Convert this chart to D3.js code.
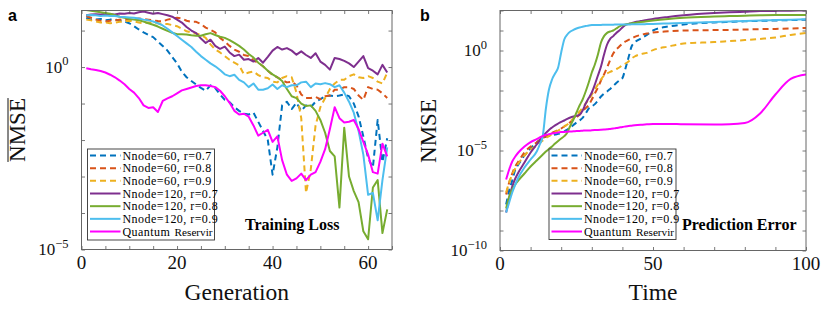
<!DOCTYPE html>
<html lang="en">
<head>
    <meta charset="UTF-8">
    <title>NMSE - training loss and prediction error</title>
    <script src="https://cdn.jsdelivr.net/npm/d3@7/dist/d3.min.js"></script>
</head>
<style>
    body {
        margin: 0;
        background: #fff;
    }

    text {
        font-family: "Liberation Serif", "Times New Roman", serif;
        fill: #111;
    }

    .tag {
        font-family: "Liberation Sans", Arial, sans-serif;
        font-weight: bold;
        font-size: 16px;
        fill: #000;
    }

    .note {
        font-weight: bold;
        font-size: 16px;
        fill: #000;
    }

    .leg {
        font-size: 12px;
        letter-spacing: 0.45px;
        fill: #000;
    }

    .leg-suffix {
        font-size: 11.2px;
        fill: #000;
    }
</style>
<body>
<script>
    // ---- data (values are log10 of NMSE) ----
    var generation = [1, 2, 3, 4, 5, 6, 7, 8, 9, 10, 11, 12, 13, 14, 15, 16, 17, 18, 19, 20,
        21, 22, 23, 24, 25, 26, 27, 28, 29, 30, 31, 32, 33, 34, 35, 36, 37, 38, 39, 40,
        41, 42, 43, 44, 45, 46, 47, 48, 49, 50, 51, 52, 53, 54, 55, 56, 57, 58, 59, 60,
        61, 62, 63, 64];

    var lossN60r07 = [1.35, 1.3, 1.3, 1.32, 1.28, 1.3, 1.3, 1.28, 1.25, 1.2,
        1.12, 1.03, 0.95, 0.88, 0.82, 0.7, 0.58, 0.45, 0.27, 0.1,
        -0.13, -0.28, -0.38, -0.48, -0.57, -0.65, -0.5, -0.58, -0.75, -0.9,
        -0.96, -1.1, -1.2, -1.28, -1.3, -1.25, -1.5, -1.75, -2.0, -2.95,
        -2.2, -1.05, -0.95, -1.15, -0.98, -1.2, -1.05, -1.1, -0.95, -0.88,
        -0.8, -0.78, -0.8, -0.78, -0.75, -0.8, -1.0, -1.35, -1.9, -2.5,
        -2.75, -1.45, -2.6, -1.95];
    var lossN60r08 = [1.4, 1.35, 1.3, 1.27, 1.25, 1.27, 1.28, 1.3, 1.29, 1.3,
        1.31, 1.33, 1.32, 1.3, 1.28, 1.26, 1.25, 1.3, 1.33, 1.35,
        1.33, 1.27, 1.24, 1.24, 1.18, 1.08, 1.02, 0.95, 0.8, 0.7,
        0.58, 0.48, 0.42, 0.33, 0.3, 0.18, 0.12, 0.02, -0.1, -0.22,
        -0.28, -0.36, -0.42, -0.4, -0.5, -0.75, -0.85, -0.85, -0.82, -0.88,
        -0.8, -0.78, -0.62, -0.62, -0.55, -0.55, -0.6, -0.78, -0.9, -0.55,
        -0.6, -0.62, -0.72, -0.85];
    var lossN60r09 = [1.3, 1.28, 1.25, 1.22, 1.22, 1.2, 1.22, 1.24, 1.25, 1.27,
        1.25, 1.22, 1.2, 1.22, 1.2, 1.2, 1.18, 1.18, 1.15, 1.12,
        1.05, 0.98, 0.95, 0.92, 0.88, 0.8, 0.62, 0.48, 0.4, 0.3,
        0.2, 0.12, 0.05, -0.2, -0.15, -0.12, -0.22, -0.28, -0.3, -0.4,
        -0.42, -0.3, -0.25, -0.28, -0.7, -1.4, -3.45, -2.8, -1.6, -1.1,
        -0.85, -0.6, -0.45, -0.35, -0.35, -0.25, -0.2, -0.28, -0.3, -0.25,
        -0.3, -0.4, -0.45, -0.15];
    var lossN120r07 = [1.42, 1.44, 1.45, 1.44, 1.46, 1.45, 1.44, 1.47, 1.46, 1.48,
        1.47, 1.5, 1.52, 1.49, 1.46, 1.48, 1.45, 1.42, 1.38, 1.3,
        1.22, 1.1, 1.0, 0.93, 0.78, 0.66, 0.75, 0.58, 0.5, 0.56,
        0.4, 0.3, 0.34, 0.2, 0.22, 0.15, 0.25, 0.12, 0.28, 0.45,
        0.55, 0.48, 0.52, 0.45, 0.34, 0.43, 0.33, 0.25, 0.38, 0.15,
        0.06, -0.07, 0.25, 0.22, 0.17, 0.1, 0.0, 0.15, 0.3, -0.03,
        -0.1, -0.2, 0.06, -0.15];
    var lossN120r08 = [1.56, 1.54, 1.52, 1.5, 1.48, 1.46, 1.42, 1.38, 1.35, 1.32,
        1.3, 1.28, 1.25, 1.2, 1.16, 1.11, 1.05, 0.99, 0.94, 0.9,
        0.9, 0.89, 0.87, 0.86, 0.86, 0.9, 0.93, 0.88, 0.83, 0.8,
        0.74, 0.66, 0.58, 0.48, 0.36, 0.26, 0.12, 0.02, -0.1, -0.2,
        -0.28, -0.38, -0.6, -0.8, -0.85, -1.0, -1.07, -1.05, -1.2, -1.45,
        -1.8, -2.3, -2.45, -3.85, -1.66, -3.0, -3.4, -3.7, -4.5, -4.72,
        -3.3, -3.1, -4.55, -3.9];
    var lossN120r09 = [1.42, 1.43, 1.42, 1.4, 1.41, 1.4, 1.4, 1.38, 1.37, 1.36,
        1.35, 1.33, 1.3, 1.28, 1.25, 1.2, 1.14, 1.05, 0.95, 0.85,
        0.75, 0.65, 0.55, 0.42, 0.3, 0.2, 0.1, 0.02, -0.08, -0.2,
        -0.25, -0.21, -0.35, -0.42, -0.55, -0.45, -0.62, -0.62, -0.58, -0.48,
        -0.6, -0.5, -0.55, -0.5, -0.5, -0.42, -0.4, -0.55, -0.45, -0.47,
        -0.44, -0.47, -0.55, -0.5, -0.7, -0.95, -1.25, -1.75, -2.4, -3.5,
        -3.45, -4.2, -3.1, -2.2];
    var lossQuantum = [-0.03, -0.06, -0.08, -0.11, -0.15, -0.21, -0.28, -0.37, -0.47, -0.6,
        -0.7, -0.85, -1.05, -1.12, -1.1, -1.23, -0.93, -0.86, -0.8, -0.72,
        -0.64, -0.6, -0.56, -0.52, -0.5, -0.5, -0.52, -0.55, -0.65, -0.8,
        -0.98, -1.2, -1.3, -1.28, -1.36, -1.6, -1.88, -1.8, -1.72, -2.05,
        -1.9, -2.55, -2.95, -3.12, -3.05, -2.92, -3.1, -2.95, -2.88, -2.6,
        -2.25, -1.7, -1.1, -1.4, -1.52, -1.5, -1.45, -1.7, -2.05, -2.4,
        -2.88, -2.92, -2.1, -2.45];

    var time = [2, 3, 4, 5, 6, 8, 10, 12, 13, 14,
        15, 16, 17, 18, 19, 20, 21, 22, 23, 24,
        25, 26, 27, 28, 29, 30, 31, 32, 33, 34,
        35, 36, 37, 38, 39, 40, 41, 42, 43, 44,
        46, 48, 50, 55, 60, 70, 75, 80, 85, 90, 95, 100];

    var errN60r07 = [-7.7, -7.0, -6.5, -5.95, -5.7, -5.25, -4.9, -4.6, -4.48, -4.37,
        -4.32, -4.28, -4.25, -4.2, -4.17, -4.13, -4.05, -3.95, -3.85, -3.72,
        -3.6, -3.5, -3.37, -3.15, -2.9, -2.8, -2.68, -2.5, -2.3, -2.15,
        -2.05, -1.92, -1.78, -1.62, -1.5, -1.38, -0.9, -0.35, 0.2, 0.4,
        0.6, 0.78, 1.0, 1.2, 1.3, 1.4, 1.43, 1.46, 1.48, 1.5, 1.52, 1.54];
    var errN60r08 = [-7.2, -6.6, -6.15, -5.8, -5.55, -5.1, -4.8, -4.6, -4.48, -4.38,
        -4.28, -4.2, -4.12, -4.05, -3.98, -3.9, -3.8, -3.68, -3.58, -3.45,
        -3.35, -3.2, -3.03, -2.88, -2.73, -2.45, -2.15, -1.85, -1.5, -1.2,
        -0.85, -0.48, -0.15, 0.05, 0.2, 0.35, 0.45, 0.53, 0.6, 0.68,
        0.78, 0.85, 0.9, 0.96, 1.0, 1.02, 1.03, 1.05, 1.07, 1.08, 1.1, 1.13];
    var errN60r09 = [-7.1, -6.6, -6.2, -5.9, -5.65, -5.25, -4.95, -4.75, -4.62, -4.5,
        -4.38, -4.28, -4.18, -4.08, -4.0, -3.9, -3.8, -3.7, -3.55, -3.4,
        -3.25, -3.05, -2.87, -2.65, -2.45, -2.2, -1.95, -1.7, -1.45, -1.25,
        -1.15, -1.07, -1.0, -0.93, -0.85, -0.72, -0.65, -0.55, -0.4, -0.3,
        -0.18, -0.12, 0.02, 0.2, 0.35, 0.42, 0.47, 0.52, 0.58, 0.65, 0.78, 0.88];
    var errN120r07 = [-8.1, -7.4, -6.8, -6.4, -6.1, -5.6, -5.1, -4.7, -4.5, -4.3,
        -4.12, -3.97, -3.85, -3.74, -3.65, -3.57, -3.5, -3.42, -3.35, -3.3,
        -3.26, -3.22, -3.0, -2.65, -2.38, -2.1, -1.7, -1.25, -0.8, -0.2,
        0.3, 0.58, 0.72, 0.88, 1.0, 1.15, 1.28, 1.33, 1.37, 1.42,
        1.47, 1.52, 1.58, 1.68, 1.76, 1.87, 1.91, 1.94, 1.97, 1.98, 1.99, 2.0];
    var errN120r08 = [-7.9, -7.3, -6.95, -6.7, -6.5, -6.15, -5.8, -5.5, -5.35, -5.2,
        -5.05, -4.92, -4.8, -4.65, -4.52, -4.4, -4.28, -4.1, -3.75, -3.45,
        -3.1, -2.75, -2.45, -2.05, -1.6, -1.1, -0.7, -0.2, 0.4, 0.72,
        0.88, 0.95, 1.0, 1.1, 1.2, 1.27, 1.3, 1.33, 1.36, 1.38,
        1.42, 1.46, 1.5, 1.58, 1.64, 1.7, 1.72, 1.74, 1.76, 1.77, 1.77, 1.78];
    var errN120r09 = [-8.1, -7.6, -7.1, -6.7, -6.35, -5.85, -5.45, -5.05, -4.7, -4.25,
        -2.9, -1.95, -1.45, -1.15, -0.85, -0.1, 0.55, 0.8, 0.95, 1.03,
        1.1, 1.15, 1.19, 1.22, 1.25, 1.27, 1.28, 1.28, 1.28, 1.29,
        1.29, 1.29, 1.29, 1.3, 1.3, 1.3, 1.3, 1.3, 1.31, 1.31,
        1.31, 1.32, 1.33, 1.35, 1.37, 1.42, 1.45, 1.47, 1.5, 1.52, 1.54, 1.56];
    var errQuantum = [-6.45, -5.95, -5.55, -5.3, -5.1, -4.8, -4.58, -4.43, -4.35, -4.27,
        -4.22, -4.18, -4.15, -4.12, -4.1, -4.08, -4.07, -4.06, -4.05, -4.04,
        -4.03, -4.02, -4.01, -4.0, -4.0, -3.99, -3.98, -3.97, -3.96, -3.95,
        -3.94, -3.92, -3.9, -3.88, -3.85, -3.82, -3.8, -3.78, -3.76, -3.74,
        -3.71, -3.69, -3.67, -3.67, -3.69, -3.7, -3.69, -3.63, -3.15, -2.2, -1.42, -1.2];

    var legendLabels = ['Nnode=60, r=0.7', 'Nnode=60, r=0.8', 'Nnode=60, r=0.9',
        'Nnode=120, r=0.7', 'Nnode=120, r=0.8', 'Nnode=120, r=0.9', 'Quantum'];
    var quantumSuffix = 'Reservir';

    var genTicks = [0, 5, 10, 15, 20, 25, 30, 35, 40, 45, 50, 55, 60, 65];
    var genLabels = [0, 20, 40, 60];
    var timeTicks = [0, 10, 20, 30, 40, 50, 60, 70, 80, 90, 100];
    var timeLabels = [0, 50, 100];
    var lossDecades = [-5, -4, -3, -2, -1, 0, 1];
    var lossLabelExp = [0, -5];
    var errDecades = [-10, -9, -8, -7, -6, -5, -4, -3, -2, -1, 0, 1, 2];
    var errLabelExp = [0, -5, -10];

    // ---- styling ----
    var colors = ['#0072BD', '#D95319', '#EDB120', '#7E2F8E', '#77AC30', '#4DBEEE', '#FF00FF'];
    var dashed = [true, true, true, false, false, false, false];

    var width = 831;
    var height = 312;

    var svg = d3.select('body')
        .append('svg')
        .attr('width', width)
        .attr('height', height);

    function drawPanel(p) {
        var x = d3.scaleLinear().domain(p.xDomain).range([p.left, p.right]);
        var y = d3.scaleLog().domain(p.yDomain).range([p.bottom, p.top]);
        var g = svg.append('g');

        svg.append('clipPath')
            .attr('id', 'clip-' + p.name)
            .append('rect')
            .attr('x', p.left)
            .attr('y', p.top)
            .attr('width', p.right - p.left)
            .attr('height', p.bottom - p.top);

        var line = d3.line()
            .x(function (d) {
                return x(d[0]);
            })
            .y(function (d) {
                return y(Math.pow(10, d[1]));
            })
            .curve(p.curve);

        p.series.forEach(function (s, i) {
            g.append('path')
                .datum(d3.zip(p.xs, s))
                .attr('clip-path', 'url(#clip-' + p.name + ')')
                .attr('fill', 'none')
                .attr('stroke', colors[i])
                .attr('stroke-width', 2)
                .attr('stroke-linejoin', 'round')
                .attr('stroke-dasharray', dashed[i] ? '6,4' : null)
                .attr('d', line);
        });

        // ticks on all four sides, pointing inwards
        var tickVals = p.yDecades.map(function (e) {
            return Math.pow(10, e);
        });
        var axes = [
            [d3.axisBottom(x).tickValues(p.xTicks), 'translate(0,' + p.bottom + ')'],
            [d3.axisTop(x).tickValues(p.xTicks), 'translate(0,' + p.top + ')'],
            [d3.axisLeft(y).tickValues(tickVals), 'translate(' + p.left + ',0)'],
            [d3.axisRight(y).tickValues(tickVals), 'translate(' + p.right + ',0)']
        ];
        axes.forEach(function (a) {
            var ax = g.append('g')
                .attr('transform', a[1])
                .call(a[0].tickSize(-3.5).tickFormat(''));
            ax.select('.domain').remove();
            ax.selectAll('line').attr('stroke', '#555').attr('stroke-width', 0.8);
        });

        g.append('rect')
            .attr('x', p.left)
            .attr('y', p.top)
            .attr('width', p.right - p.left)
            .attr('height', p.bottom - p.top)
            .attr('fill', 'none')
            .attr('stroke', '#666')
            .attr('stroke-width', 1);

        // x tick labels
        g.selectAll('.xlab')
            .data(p.xLabels)
            .enter()
            .append('text')
            .attr('x', function (d) {
                return x(d);
            })
            .attr('y', p.bottom + 19)
            .attr('text-anchor', 'middle')
            .style('font-size', '19px')
            .text(function (d) {
                return d;
            });

        // y tick labels 10^e
        p.yLabelExp.forEach(function (e) {
            var t = g.append('text')
                .attr('x', p.left - 13)
                .attr('y', y(Math.pow(10, e)) + 5.5)
                .attr('text-anchor', 'end');
            t.append('tspan').style('font-size', '17px').text('10');
            t.append('tspan')
                .attr('dy', -7.5)
                .style('font-size', '12.5px')
                .text(e < 0 ? '\u2212' + (-e) : e);
        });

        // axis titles
        g.append('text')
            .attr('x', (p.left + p.right) / 2)
            .attr('y', 300)
            .attr('text-anchor', 'middle')
            .style('font-size', '23.5px')
            .text(p.xTitle);

        var yt = g.append('g')
            .attr('transform', 'translate(' + p.yTitleX + ',' + p.yTitleY + ') rotate(-90)');
        var ytText = yt.append('text')
            .attr('text-anchor', 'middle')
            .style('font-size', '23px')
            .text('NMSE');
        if (p.overline) {
            var w = ytText.node().getComputedTextLength();
            yt.append('line')
                .attr('x1', -w / 2)
                .attr('x2', w / 2)
                .attr('y1', -17)
                .attr('y2', -17)
                .attr('stroke', '#111')
                .attr('stroke-width', 1);
        }

        // legend
        var lg = g.append('g');
        lg.append('rect')
            .attr('x', p.legend.x)
            .attr('y', p.legend.y)
            .attr('width', p.legend.w)
            .attr('height', p.legend.h)
            .attr('fill', '#fff')
            .attr('stroke', '#333')
            .attr('stroke-width', 0.9);
        legendLabels.forEach(function (lab, i) {
            var ry = p.legend.y + 6.5 + i * 12.67;
            lg.append('line')
                .attr('x1', p.legend.x + 2.5)
                .attr('x2', p.legend.x + 33)
                .attr('y1', ry)
                .attr('y2', ry)
                .attr('stroke', colors[i])
                .attr('stroke-width', 2)
                .attr('stroke-dasharray', dashed[i] ? '6,4' : null);
            lg.append('text')
                .attr('class', 'leg')
                .attr('x', p.legend.x + 35)
                .attr('y', ry + 4)
                .text(lab);
            if (i === legendLabels.length - 1) {
                lg.append('text')
                    .attr('class', 'leg-suffix')
                    .attr('x', p.legend.x + p.legend.w - 2)
                    .attr('y', ry + 4)
                    .attr('text-anchor', 'end')
                    .text(quantumSuffix);
            }
        });

        g.append('text')
            .attr('class', 'note')
            .attr('x', p.noteX)
            .attr('y', 230)
            .text(p.note);

        svg.append('text')
            .attr('class', 'tag')
            .attr('x', p.tagX)
            .attr('y', 20.5)
            .text(p.tag);
    }

    drawPanel({
        name: 'a', tag: 'a', tagX: 8,
        left: 81.5, right: 392, top: 10.5, bottom: 249.5,
        xDomain: [0, 65], yDomain: [1e-5, Math.pow(10, 1.55)],
        xs: generation,
        series: [lossN60r07, lossN60r08, lossN60r09, lossN120r07, lossN120r08, lossN120r09, lossQuantum],
        curve: d3.curveLinear,
        xTicks: genTicks, xLabels: genLabels,
        yDecades: lossDecades, yLabelExp: lossLabelExp,
        xTitle: 'Generation', yTitleX: 25, yTitleY: 130, overline: true,
        legend: {x: 87.5, y: 149, w: 127, h: 91},
        note: 'Training Loss', noteX: 245
    });

    drawPanel({
        name: 'b', tag: 'b', tagX: 420,
        left: 500, right: 806, top: 10.5, bottom: 250.5,
        xDomain: [0, 100], yDomain: [1e-10, 1e2],
        xs: time,
        series: [errN60r07, errN60r08, errN60r09, errN120r07, errN120r08, errN120r09, errQuantum],
        curve: d3.curveMonotoneX,
        xTicks: timeTicks, xLabels: timeLabels,
        yDecades: errDecades, yLabelExp: errLabelExp,
        xTitle: 'Time', yTitleX: 436, yTitleY: 131, overline: false,
        legend: {x: 549, y: 149, w: 127, h: 90.5},
        note: 'Prediction Error', noteX: 682
    });
</script>
</body>
</html>
